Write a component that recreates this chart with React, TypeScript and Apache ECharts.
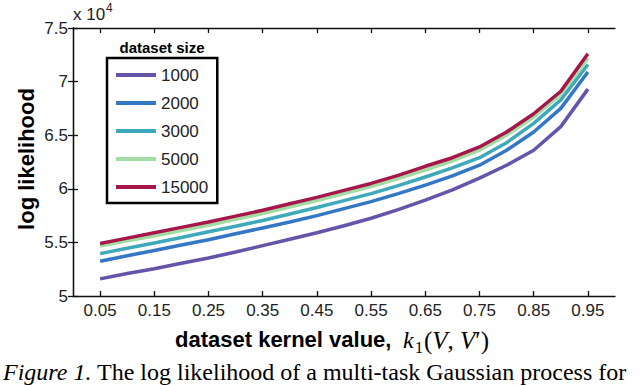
import React, { useEffect, useRef } from "react";
import * as echarts from "echarts";

// x values: dataset kernel value k1(V, V')
const kernelValues = [0.05, 0.1, 0.15, 0.2, 0.25, 0.3, 0.35, 0.4, 0.45, 0.5, 0.55, 0.6, 0.65, 0.7, 0.75, 0.8, 0.85, 0.9, 0.95];
const xTickValues = [0.05, 0.15, 0.25, 0.35, 0.45, 0.55, 0.65, 0.75, 0.85, 0.95];
const datasetSizes = ["1000", "2000", "3000", "5000", "15000"];

// log likelihood in units of 10^4
const ll1000 = [5.16, 5.21, 5.255, 5.305, 5.355, 5.41, 5.47, 5.53, 5.59, 5.655, 5.725, 5.805, 5.895, 5.99, 6.1, 6.22, 6.36, 6.58, 6.93];
const ll2000 = [5.325, 5.375, 5.425, 5.475, 5.525, 5.58, 5.635, 5.69, 5.75, 5.815, 5.88, 5.955, 6.035, 6.12, 6.22, 6.36, 6.53, 6.75, 7.09];
const ll3000 = [5.395, 5.445, 5.495, 5.545, 5.6, 5.65, 5.705, 5.765, 5.825, 5.89, 5.955, 6.03, 6.11, 6.195, 6.29, 6.43, 6.61, 6.83, 7.16];
const ll5000 = [5.465, 5.515, 5.56, 5.61, 5.66, 5.715, 5.77, 5.83, 5.89, 5.955, 6.02, 6.095, 6.175, 6.26, 6.36, 6.5, 6.67, 6.88, 7.22];
const ll15000 = [5.49, 5.54, 5.59, 5.64, 5.69, 5.745, 5.8, 5.86, 5.92, 5.985, 6.05, 6.125, 6.21, 6.29, 6.39, 6.53, 6.7, 6.91, 7.26];

const seriesValues = [ll1000, ll2000, ll3000, ll5000, ll15000];
const lineColors = ["#6554AA", "#3477C4", "#3FA9BC", "#A3DCA3", "#A6164A"];

const SANS = "'Liberation Sans', Arial, Helvetica, sans-serif";
const SERIF = "'Liberation Serif', 'Times New Roman', serif";

export default function App() {
  const ref = useRef<HTMLDivElement>(null);
  useEffect(() => {
    document.body.style.margin = "0";
    const chart = echarts.init(ref.current!, null, { renderer: "svg" });
    const axisLineStyle = { color: "#111", width: 1.3 };
    const option: any = {
      animation: false,
      backgroundColor: "#fff",
      grid: { left: 73, right: 25, top: 28, bottom: 89, containLabel: false },
      xAxis: [
        {
          type: "value", min: 0, max: 1, position: "bottom",
          axisLine: { show: true, lineStyle: axisLineStyle },
          axisTick: { show: true, inside: true, length: 5, lineStyle: axisLineStyle, customValues: xTickValues },
          axisLabel: { customValues: xTickValues, formatter: (v: number) => v.toFixed(2), fontSize: 17, color: "#222", fontFamily: SANS, margin: 6 },
          splitLine: { show: false },
        },
        {
          type: "value", min: 0, max: 1, position: "top",
          axisLine: { show: true, lineStyle: axisLineStyle },
          axisTick: { show: true, inside: true, length: 5, lineStyle: axisLineStyle, customValues: xTickValues },
          axisLabel: { show: false },
          splitLine: { show: false },
        },
      ],
      yAxis: [
        {
          type: "value", min: 5, max: 7.5, interval: 0.5, position: "left",
          axisLine: { show: true, lineStyle: axisLineStyle },
          axisTick: { show: true, inside: true, length: 5, lineStyle: axisLineStyle },
          axisLabel: { fontSize: 17, color: "#222", fontFamily: SANS, margin: 5 },
          splitLine: { show: false },
        },
        {
          type: "value", min: 5, max: 7.5, interval: 0.5, position: "right",
          axisLine: { show: true, lineStyle: axisLineStyle },
          axisTick: { show: true, inside: true, length: 5, lineStyle: axisLineStyle },
          axisLabel: { show: false },
          splitLine: { show: false },
        },
      ],
      legend: {
        data: datasetSizes,
        orient: "vertical",
        left: 107,
        top: 58,
        padding: [7, 9, 6, 9],
        borderColor: "#000",
        borderWidth: 2.5,
        backgroundColor: "#fff",
        itemWidth: 40,
        itemHeight: 4,
        itemGap: 8,
        icon: "rect",
        textStyle: { fontSize: 17, color: "#222", fontFamily: SANS, lineHeight: 20 },
      },
      series: datasetSizes.map((name, i) => ({
        name,
        type: "line",
        showSymbol: false,
        symbol: "none",
        color: lineColors[i],
        lineStyle: { width: 3.5, color: lineColors[i] },
        data: kernelValues.map((x, j) => [x, seriesValues[i][j]]),
      })),
      graphic: [
        { type: "text", left: 73, top: 6, style: { text: "x 10", fill: "#222", font: `17px ${SANS}` } },
        { type: "text", left: 106, top: 2, style: { text: "4", fill: "#222", font: `12px ${SANS}` } },
        { type: "text", x: 162, y: 47, style: { text: "dataset size", fill: "#000", font: `bold 15px ${SANS}`, align: "center", verticalAlign: "middle" } },
        { type: "text", x: 26, y: 159, rotation: Math.PI / 2, style: { text: "log likelihood", fill: "#000", font: `bold 22px ${SANS}`, align: "center", verticalAlign: "middle" } },
        { type: "text", x: 175, y: 339, style: { text: "dataset kernel value,", fill: "#000", font: `bold 22px ${SANS}`, align: "left", verticalAlign: "middle" } },
        { type: "text", x: 403, y: 340, style: { text: "k", fill: "#000", font: `italic 24px ${SERIF}`, align: "left", verticalAlign: "middle" } },
        { type: "text", x: 415, y: 347, style: { text: "1", fill: "#000", font: `16px ${SERIF}`, align: "left", verticalAlign: "middle" } },
        {
          type: "text", x: 424, y: 340,
          style: {
            text: "{p|(}{v|V}{p|, }{v|V}{p|\u2032)}",
            fill: "#000", font: `25px ${SERIF}`, align: "left", verticalAlign: "middle",
            rich: {
              p: { fontSize: 25, fontFamily: SERIF, fill: "#000" },
              v: { fontSize: 25, fontFamily: SERIF, fontStyle: "italic", fill: "#000" },
            },
          },
        },
        {
          type: "text", x: 3, y: 372,
          style: {
            text: "{i|Figure 1.} The log likelihood of a multi-task Gaussian process for",
            fill: "#000", font: `24px ${SERIF}`, verticalAlign: "middle",
            rich: { i: { fontStyle: "italic", fontSize: 24, fontFamily: SERIF } },
          },
        },
      ],
    };
    chart.setOption(option);
    return () => chart.dispose();
  }, []);
  return <div ref={ref} style={{ width: 640, height: 385 }} />;
}
